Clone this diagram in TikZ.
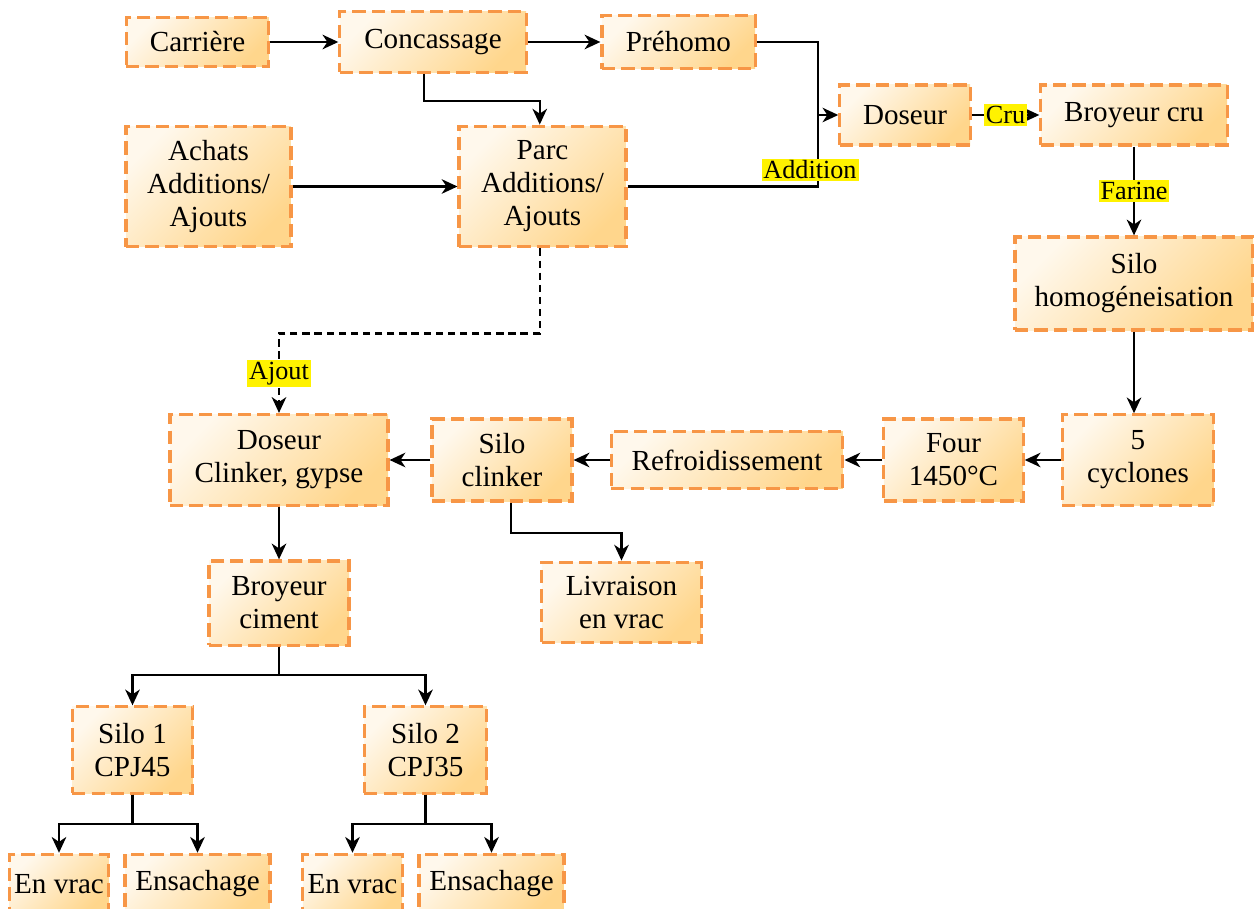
\documentclass[tikz,border=0pt]{standalone}
\usepackage{fontspec}
\setmainfont{Liberation Serif}
\usetikzlibrary{arrows.meta}
\definecolor{bordure}{RGB}{247,150,70}
\definecolor{clair}{RGB}{255,248,236}
\definecolor{fonce}{RGB}{255,214,140}
\tikzset{
  etape/.style={draw=bordure, line width=1.3pt, dash pattern=on 5.5pt off 2.5pt,
    top color=clair, bottom color=fonce, shading angle=45,
    align=center, inner sep=2pt, font=\fontsize{12}{13.6}\selectfont},
  fleche/.style={-{Stealth[length=6.5pt,width=6pt,inset=2pt]}, line width=0.9pt},
  etiq/.style={fill=yellow, inner sep=0.8pt, font=\fontsize{10.8}{12}\selectfont}
}
\begin{document}
\begin{tikzpicture}[x=0.0145cm, y=-0.0145cm]
\useasboundingbox (0,0) rectangle (1254,908);
% preparation du cru
\node[etape, minimum width=2.07cm, minimum height=0.71cm] (carriere) at (197.5,42) {Carrière};
\node[etape, minimum width=2.70cm, minimum height=0.88cm] (concassage) at (433,42) {Concassage};
\node[etape, minimum width=2.22cm, minimum height=0.77cm] (prehomo) at (678.5,42) {Préhomo};
\node[etape, minimum width=1.89cm, minimum height=0.87cm] (doseur) at (905,115) {Doseur};
\node[etape, minimum width=2.70cm, minimum height=0.87cm] (broyeurcru) at (1134,115) {Broyeur cru};
\node[etape, minimum width=2.39cm, minimum height=1.75cm] (achats) at (208.5,186.5) {Achats\\Additions/\\Ajouts};
\node[etape, minimum width=2.42cm, minimum height=1.75cm] (parc) at (542.5,186.5) {Parc\\Additions/\\Ajouts};
\node[etape, minimum width=3.45cm, minimum height=1.35cm] (silohomo) at (1134,283.5) {Silo\\homogéneisation};
% cuisson
\node[etape, minimum width=2.20cm, minimum height=1.31cm] (cyclones) at (1138,460) {5\\cyclones};
\node[etape, minimum width=2.02cm, minimum height=1.19cm] (four) at (953.5,460) {Four\\1450°C};
\node[etape, minimum width=3.36cm, minimum height=0.83cm] (refroid) at (727,460) {Refroidissement};
\node[etape, minimum width=2.03cm, minimum height=1.19cm] (siloclinker) at (502,460) {Silo\\clinker};
\node[etape, minimum width=3.16cm, minimum height=1.32cm] (doseurclinker) at (279,460) {Doseur\\Clinker, gypse};
% broyage et expedition
\node[etape, minimum width=2.03cm, minimum height=1.22cm] (broyeurciment) at (279,603) {Broyeur\\ciment};
\node[etape, minimum width=2.31cm, minimum height=1.17cm] (livraison) at (621.5,602.5) {Livraison\\en vrac};
\node[etape, minimum width=1.75cm, minimum height=1.25cm] (silo1) at (132.5,750) {Silo 1\\CPJ45};
\node[etape, minimum width=1.78cm, minimum height=1.25cm] (silo2) at (425.5,750) {Silo 2\\CPJ35};
\node[etape, minimum width=1.42cm, minimum height=0.86cm] (vrac1) at (59,884) {En vrac};
\node[etape, minimum width=2.10cm, minimum height=0.86cm] (sac1) at (197.5,884) {Ensachage};
\node[etape, minimum width=1.44cm, minimum height=0.86cm] (vrac2) at (352.5,884) {En vrac};
\node[etape, minimum width=2.10cm, minimum height=0.86cm] (sac2) at (491.5,884) {Ensachage};
% liaisons
\coordinate (jonction) at (818,115);
\draw[fleche] (carriere) -- (concassage);
\draw[fleche] (concassage) -- (prehomo);
\draw[fleche] ([xshift=-0.13cm]concassage.south) -- ++(0,27) -| ([xshift=-0.04cm]parc.north);
\draw[fleche] (achats) -- (parc);
\draw[line width=0.9pt] (prehomo.east) -| (jonction);
\draw[fleche] (parc.east) -| (jonction) -- (doseur.west);
\node[etiq] (addition) at (810,170) {Addition};
\draw[fleche] (doseur) -- node[etiq] {Cru} (broyeurcru);
\draw[fleche] (broyeurcru) -- node[etiq] {Farine} (silohomo);
\draw[fleche] (silohomo.south) -- (silohomo.south |- cyclones.north);
\draw[fleche] (cyclones) -- (four);
\draw[fleche] (four) -- (refroid);
\draw[fleche] (refroid) -- (siloclinker);
\draw[fleche] (siloclinker) -- (doseurclinker);
\draw[fleche, dash pattern=on 3pt off 2pt] ([xshift=-0.04cm]parc.south) -- ++(0,85) -| node[etiq, pos=0.75] {Ajout} (doseurclinker.north);
\draw[fleche] (doseurclinker) -- (broyeurciment);
\draw[fleche] ([xshift=0.13cm]siloclinker.south) -- ++(0,30) -| (livraison.north);
\draw[fleche] (broyeurciment.south) -- ++(0,28) -| (silo1.north);
\draw[fleche] (broyeurciment.south) -- ++(0,28) -| (silo2.north);
\draw[fleche] (silo1.south) -- ++(0,29) -| (vrac1.north);
\draw[fleche] (silo1.south) -- ++(0,29) -| (sac1.north);
\draw[fleche] (silo2.south) -- ++(0,29) -| (vrac2.north);
\draw[fleche] (silo2.south) -- ++(0,29) -| (sac2.north);
\end{tikzpicture}
\end{document}
